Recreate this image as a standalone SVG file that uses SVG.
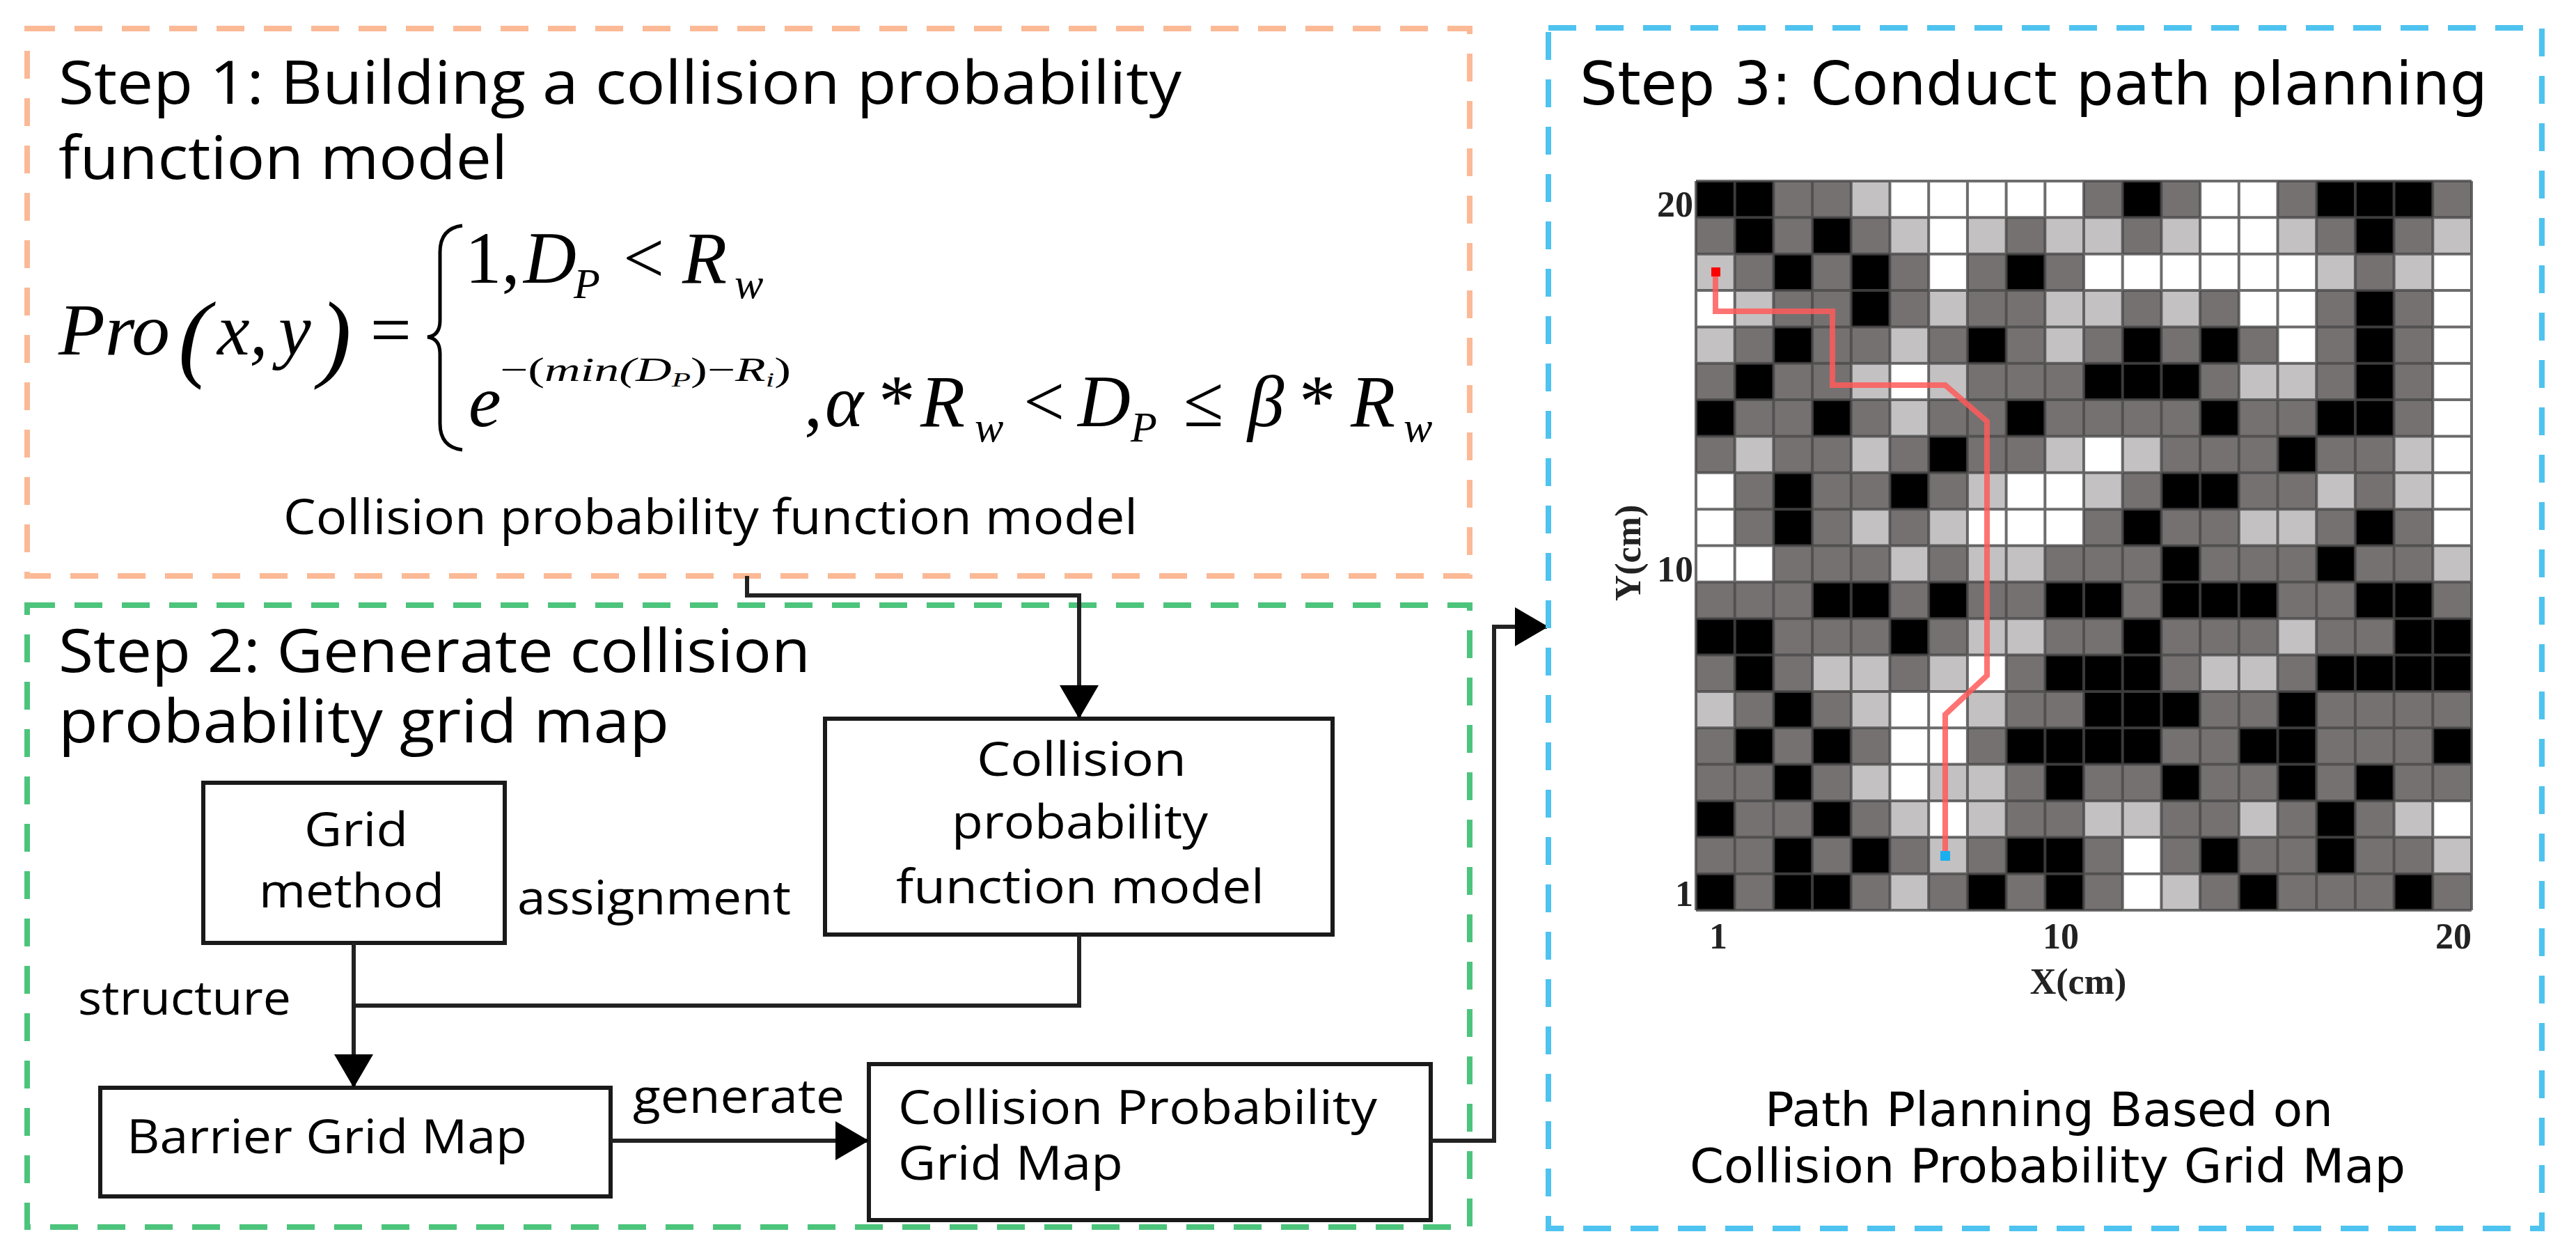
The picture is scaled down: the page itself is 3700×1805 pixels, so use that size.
<svg xmlns="http://www.w3.org/2000/svg" width="3700" height="1805" viewBox="0 0 3700 1805">
<style>
.t{font-family:"Open Sans","Noto Sans",sans-serif;fill:#000}
.v{font-family:"DejaVu Sans",sans-serif;fill:#000}
.m{font-family:"Liberation Serif",serif;font-style:italic;fill:#000}
.ax{font-family:"Liberation Serif",serif;font-weight:bold;fill:#222}
.box{fill:#fff;stroke:#1a1a1a;stroke-width:6}
.ln{fill:none;stroke:#222;stroke-width:6}
.B{fill:#000}.L{fill:#c3c1c1}.W{fill:#fff}
</style>
<defs>
<marker id="ah" markerUnits="userSpaceOnUse" markerWidth="50" markerHeight="56" refX="46" refY="28" orient="auto">
<path d="M0,0 L48,28 L0,56 Z" fill="#000"/>
</marker>
</defs>
<rect width="3700" height="1805" fill="#fff"/>

<g id="step1">
<rect x="39" y="41" width="2072" height="786" fill="none" stroke="#fbb996" stroke-width="8" stroke-dasharray="40,28"/>
<text class="t" x="84" y="149" font-size="86" textLength="1613" lengthAdjust="spacingAndGlyphs">Step 1: Building a collision probability</text>
<text class="t" x="84" y="257" font-size="86" textLength="645" lengthAdjust="spacingAndGlyphs">function model</text>
<text class="m" x="84" y="509" font-size="105" textLength="160" lengthAdjust="spacingAndGlyphs">Pro</text>
<text class="m" x="256" y="530" font-size="140" font-style="normal">(</text>
<text class="m" x="312" y="509" font-size="105">x,</text>
<text class="m" x="400" y="509" font-size="105">y</text>
<text class="m" x="458" y="530" font-size="140" font-style="normal">)</text>
<text class="m" x="525" y="509" font-size="105" font-style="normal">=</text>
<path d="M664 324 Q632 328 632 362 L632 460 Q632 482 614 484 Q632 486 632 508 L632 608 Q632 642 664 646" fill="none" stroke="#000" stroke-width="5"/>
<text class="m" y="406" font-size="105"><tspan x="668" font-style="normal">1,</tspan><tspan x="752">D</tspan><tspan x="824" y="428" font-size="62">P</tspan><tspan x="895" y="406" font-style="normal">&lt;</tspan><tspan x="980">R</tspan><tspan x="1055" y="428" font-size="62">w</tspan></text>
<text class="m" x="673" y="612" font-size="105">e</text>
<text class="m" x="718" y="547" font-size="48" textLength="418" lengthAdjust="spacingAndGlyphs"><tspan font-style="normal">−(</tspan>min(D<tspan font-size="30" dy="8">P</tspan><tspan dy="-8" font-style="normal">)−</tspan>R<tspan font-size="30" dy="8">i</tspan><tspan dy="-8" font-style="normal">)</tspan></text>
<text class="m" y="612" font-size="105"><tspan x="1155" font-style="normal">,</tspan><tspan x="1185">α</tspan><tspan x="1262" font-style="normal">*</tspan><tspan x="1322">R</tspan><tspan x="1400" y="634" font-size="62">w</tspan><tspan x="1470" y="612" font-style="normal">&lt;</tspan><tspan x="1548">D</tspan><tspan x="1624" y="634" font-size="62">P</tspan><tspan x="1700" y="612" font-style="normal">≤</tspan><tspan x="1792">β</tspan><tspan x="1866" font-style="normal">*</tspan><tspan x="1940">R</tspan><tspan x="2016" y="634" font-size="62">w</tspan></text>
<text class="t" x="407" y="767" font-size="70" textLength="1227" lengthAdjust="spacingAndGlyphs">Collision probability function model</text>
</g>

<g id="step2">
<rect x="39" y="869" width="2072" height="893" fill="none" stroke="#4cc47c" stroke-width="8" stroke-dasharray="40,28"/>
<text class="t" x="84" y="965" font-size="86" textLength="1080" lengthAdjust="spacingAndGlyphs">Step 2: Generate collision</text>
<text class="t" x="84" y="1066" font-size="86" textLength="877" lengthAdjust="spacingAndGlyphs">probability grid map</text>
</g>

<g id="cpfm">
<rect class="box" x="1185" y="1032" width="729" height="310"/>
<text class="t" x="1403" y="1114" font-size="68" textLength="301" lengthAdjust="spacingAndGlyphs">Collision</text>
<text class="t" x="1367" y="1204" font-size="68" textLength="368" lengthAdjust="spacingAndGlyphs">probability</text>
<text class="t" x="1287" y="1297" font-size="68" textLength="529" lengthAdjust="spacingAndGlyphs">function model</text>
</g>
<g id="gridmethod">
<rect class="box" x="292" y="1124" width="433" height="230"/>
<text class="t" x="437" y="1215" font-size="68" textLength="149" lengthAdjust="spacingAndGlyphs">Grid</text>
<text class="t" x="372" y="1303" font-size="68" textLength="266" lengthAdjust="spacingAndGlyphs">method</text>
</g>
<g id="barrier">
<rect class="box" x="144" y="1562" width="733" height="156"/>
<text class="t" x="182" y="1656" font-size="68" textLength="575" lengthAdjust="spacingAndGlyphs">Barrier Grid Map</text>
</g>
<g id="cpgm">
<rect class="box" x="1248" y="1528" width="807" height="224"/>
<text class="t" x="1290" y="1614" font-size="68" textLength="688" lengthAdjust="spacingAndGlyphs">Collision Probability</text>
<text class="t" x="1290" y="1694" font-size="68" textLength="323" lengthAdjust="spacingAndGlyphs">Grid Map</text>
</g>

<g id="connectors">
<path class="ln" d="M1073 827 V855 H1550 V1030" marker-end="url(#ah)"/>
<path class="ln" d="M508 1354 V1560" marker-end="url(#ah)"/>
<path class="ln" d="M1550 1342 V1444 H508"/>
<path class="ln" d="M877 1638 H1246" marker-end="url(#ah)"/>
<path class="ln" d="M2055 1638 H2146 V900 H2222" stroke-width="5" marker-end="url(#ah)"/>
<text class="t" x="743" y="1313" font-size="68" textLength="393" lengthAdjust="spacingAndGlyphs">assignment</text>
<text class="t" x="112" y="1457" font-size="68" textLength="306" lengthAdjust="spacingAndGlyphs">structure</text>
<text class="t" x="909" y="1598" font-size="68" textLength="304" lengthAdjust="spacingAndGlyphs">generate</text>
</g>

<g id="step3">
<rect x="2224" y="40" width="1427" height="1724" fill="none" stroke="#4ec3f0" stroke-width="8" stroke-dasharray="40,28"/>
<text class="v" x="2269" y="150" font-size="86" textLength="1304" lengthAdjust="spacingAndGlyphs">Step 3: Conduct path planning</text>
<g transform="translate(2436,260) scale(55.7,52.35)">
<rect width="20" height="20" fill="#757171"/>
<rect class="B" x="0" y="0" width="1" height="1"/><rect class="B" x="1" y="0" width="1" height="1"/><rect class="L" x="4" y="0" width="1" height="1"/><rect class="W" x="5" y="0" width="5" height="1"/><rect class="B" x="11" y="0" width="1" height="1"/><rect class="W" x="13" y="0" width="2" height="1"/><rect class="B" x="16" y="0" width="3" height="1"/>
<rect class="B" x="1" y="1" width="1" height="1"/><rect class="B" x="3" y="1" width="1" height="1"/><rect class="L" x="5" y="1" width="1" height="1"/><rect class="W" x="6" y="1" width="1" height="1"/><rect class="L" x="7" y="1" width="1" height="1"/><rect class="L" x="9" y="1" width="2" height="1"/><rect class="L" x="12" y="1" width="1" height="1"/><rect class="W" x="13" y="1" width="2" height="1"/><rect class="L" x="15" y="1" width="1" height="1"/><rect class="B" x="17" y="1" width="1" height="1"/><rect class="L" x="19" y="1" width="1" height="1"/>
<rect class="L" x="0" y="2" width="1" height="1"/><rect class="B" x="2" y="2" width="1" height="1"/><rect class="B" x="4" y="2" width="1" height="1"/><rect class="W" x="6" y="2" width="1" height="1"/><rect class="B" x="8" y="2" width="1" height="1"/><rect class="W" x="10" y="2" width="6" height="1"/><rect class="L" x="16" y="2" width="1" height="1"/><rect class="L" x="18" y="2" width="1" height="1"/><rect class="W" x="19" y="2" width="1" height="1"/>
<rect class="W" x="0" y="3" width="1" height="1"/><rect class="L" x="1" y="3" width="1" height="1"/><rect class="B" x="4" y="3" width="1" height="1"/><rect class="L" x="6" y="3" width="1" height="1"/><rect class="L" x="9" y="3" width="2" height="1"/><rect class="L" x="12" y="3" width="1" height="1"/><rect class="W" x="14" y="3" width="2" height="1"/><rect class="B" x="17" y="3" width="1" height="1"/><rect class="W" x="19" y="3" width="1" height="1"/>
<rect class="L" x="0" y="4" width="1" height="1"/><rect class="B" x="2" y="4" width="1" height="1"/><rect class="L" x="5" y="4" width="1" height="1"/><rect class="B" x="7" y="4" width="1" height="1"/><rect class="L" x="9" y="4" width="1" height="1"/><rect class="B" x="11" y="4" width="1" height="1"/><rect class="B" x="13" y="4" width="1" height="1"/><rect class="W" x="15" y="4" width="1" height="1"/><rect class="B" x="17" y="4" width="1" height="1"/><rect class="W" x="19" y="4" width="1" height="1"/>
<rect class="B" x="1" y="5" width="1" height="1"/><rect class="L" x="4" y="5" width="1" height="1"/><rect class="W" x="5" y="5" width="1" height="1"/><rect class="L" x="6" y="5" width="1" height="1"/><rect class="B" x="10" y="5" width="3" height="1"/><rect class="L" x="14" y="5" width="2" height="1"/><rect class="B" x="17" y="5" width="1" height="1"/><rect class="W" x="19" y="5" width="1" height="1"/>
<rect class="B" x="0" y="6" width="1" height="1"/><rect class="B" x="3" y="6" width="1" height="1"/><rect class="L" x="5" y="6" width="1" height="1"/><rect class="B" x="8" y="6" width="1" height="1"/><rect class="B" x="13" y="6" width="1" height="1"/><rect class="B" x="16" y="6" width="2" height="1"/><rect class="W" x="19" y="6" width="1" height="1"/>
<rect class="L" x="1" y="7" width="1" height="1"/><rect class="L" x="4" y="7" width="1" height="1"/><rect class="B" x="6" y="7" width="1" height="1"/><rect class="L" x="9" y="7" width="1" height="1"/><rect class="W" x="10" y="7" width="1" height="1"/><rect class="L" x="11" y="7" width="1" height="1"/><rect class="B" x="15" y="7" width="1" height="1"/><rect class="L" x="18" y="7" width="1" height="1"/><rect class="W" x="19" y="7" width="1" height="1"/>
<rect class="W" x="0" y="8" width="1" height="1"/><rect class="B" x="2" y="8" width="1" height="1"/><rect class="B" x="5" y="8" width="1" height="1"/><rect class="L" x="7" y="8" width="1" height="1"/><rect class="W" x="8" y="8" width="2" height="1"/><rect class="L" x="10" y="8" width="1" height="1"/><rect class="B" x="12" y="8" width="2" height="1"/><rect class="L" x="16" y="8" width="1" height="1"/><rect class="L" x="18" y="8" width="1" height="1"/><rect class="W" x="19" y="8" width="1" height="1"/>
<rect class="W" x="0" y="9" width="1" height="1"/><rect class="B" x="2" y="9" width="1" height="1"/><rect class="L" x="4" y="9" width="1" height="1"/><rect class="L" x="6" y="9" width="1" height="1"/><rect class="W" x="7" y="9" width="3" height="1"/><rect class="B" x="11" y="9" width="1" height="1"/><rect class="L" x="14" y="9" width="2" height="1"/><rect class="B" x="17" y="9" width="1" height="1"/><rect class="W" x="19" y="9" width="1" height="1"/>
<rect class="W" x="0" y="10" width="2" height="1"/><rect class="L" x="5" y="10" width="1" height="1"/><rect class="L" x="7" y="10" width="2" height="1"/><rect class="B" x="12" y="10" width="1" height="1"/><rect class="B" x="16" y="10" width="1" height="1"/><rect class="L" x="19" y="10" width="1" height="1"/>
<rect class="B" x="3" y="11" width="2" height="1"/><rect class="B" x="6" y="11" width="1" height="1"/><rect class="B" x="9" y="11" width="2" height="1"/><rect class="B" x="12" y="11" width="3" height="1"/><rect class="B" x="17" y="11" width="2" height="1"/>
<rect class="B" x="0" y="12" width="2" height="1"/><rect class="B" x="5" y="12" width="1" height="1"/><rect class="L" x="7" y="12" width="2" height="1"/><rect class="B" x="11" y="12" width="1" height="1"/><rect class="L" x="15" y="12" width="1" height="1"/><rect class="B" x="18" y="12" width="2" height="1"/>
<rect class="B" x="1" y="13" width="1" height="1"/><rect class="L" x="3" y="13" width="2" height="1"/><rect class="L" x="6" y="13" width="1" height="1"/><rect class="W" x="7" y="13" width="1" height="1"/><rect class="B" x="9" y="13" width="3" height="1"/><rect class="L" x="13" y="13" width="2" height="1"/><rect class="B" x="16" y="13" width="4" height="1"/>
<rect class="L" x="0" y="14" width="1" height="1"/><rect class="B" x="2" y="14" width="1" height="1"/><rect class="L" x="4" y="14" width="1" height="1"/><rect class="W" x="5" y="14" width="2" height="1"/><rect class="L" x="7" y="14" width="1" height="1"/><rect class="B" x="10" y="14" width="3" height="1"/><rect class="B" x="15" y="14" width="1" height="1"/>
<rect class="B" x="1" y="15" width="1" height="1"/><rect class="B" x="3" y="15" width="1" height="1"/><rect class="W" x="5" y="15" width="2" height="1"/><rect class="B" x="8" y="15" width="4" height="1"/><rect class="B" x="14" y="15" width="2" height="1"/><rect class="B" x="19" y="15" width="1" height="1"/>
<rect class="B" x="2" y="16" width="1" height="1"/><rect class="L" x="4" y="16" width="1" height="1"/><rect class="W" x="5" y="16" width="1" height="1"/><rect class="L" x="6" y="16" width="2" height="1"/><rect class="B" x="9" y="16" width="1" height="1"/><rect class="B" x="12" y="16" width="1" height="1"/><rect class="B" x="15" y="16" width="1" height="1"/><rect class="B" x="17" y="16" width="1" height="1"/>
<rect class="B" x="0" y="17" width="1" height="1"/><rect class="B" x="3" y="17" width="1" height="1"/><rect class="L" x="5" y="17" width="1" height="1"/><rect class="W" x="6" y="17" width="1" height="1"/><rect class="L" x="7" y="17" width="1" height="1"/><rect class="L" x="10" y="17" width="2" height="1"/><rect class="L" x="14" y="17" width="1" height="1"/><rect class="B" x="16" y="17" width="1" height="1"/><rect class="L" x="18" y="17" width="1" height="1"/><rect class="W" x="19" y="17" width="1" height="1"/>
<rect class="B" x="2" y="18" width="1" height="1"/><rect class="B" x="4" y="18" width="1" height="1"/><rect class="L" x="6" y="18" width="1" height="1"/><rect class="B" x="8" y="18" width="2" height="1"/><rect class="W" x="11" y="18" width="1" height="1"/><rect class="B" x="13" y="18" width="1" height="1"/><rect class="B" x="16" y="18" width="1" height="1"/><rect class="L" x="19" y="18" width="1" height="1"/>
<rect class="B" x="0" y="19" width="1" height="1"/><rect class="B" x="2" y="19" width="2" height="1"/><rect class="L" x="5" y="19" width="1" height="1"/><rect class="B" x="7" y="19" width="1" height="1"/><rect class="B" x="9" y="19" width="1" height="1"/><rect class="W" x="11" y="19" width="1" height="1"/><rect class="L" x="12" y="19" width="1" height="1"/><rect class="B" x="14" y="19" width="1" height="1"/><rect class="B" x="18" y="19" width="1" height="1"/>
<path d="M0 0H20M0 1H20M0 2H20M0 3H20M0 4H20M0 5H20M0 6H20M0 7H20M0 8H20M0 9H20M0 10H20M0 11H20M0 12H20M0 13H20M0 14H20M0 15H20M0 16H20M0 17H20M0 18H20M0 19H20M0 20H20M0 0V20M1 0V20M2 0V20M3 0V20M4 0V20M5 0V20M6 0V20M7 0V20M8 0V20M9 0V20M10 0V20M11 0V20M12 0V20M13 0V20M14 0V20M15 0V20M16 0V20M17 0V20M18 0V20M19 0V20M20 0V20" fill="none" stroke="#4a4848" stroke-width="4" stroke-opacity="0.8" vector-effect="non-scaling-stroke"/>
</g>
<path d="M2464 391 V447 H2632 V553 H2794 L2854 605 V970 L2794 1026 V1225" fill="none" stroke="#ff5a5a" stroke-width="8" stroke-opacity="0.85"/>
<rect x="2458" y="384" width="13" height="13" fill="#ff0000"/>
<rect x="2787" y="1222" width="14" height="14" fill="#1ab0ef"/>
<text class="ax" x="2432" y="311" font-size="52" text-anchor="end">20</text>
<text class="ax" x="2432" y="835" font-size="52" text-anchor="end">10</text>
<text class="ax" x="2432" y="1301" font-size="52" text-anchor="end">1</text>
<text class="ax" x="2468" y="1362" font-size="52" text-anchor="middle">1</text>
<text class="ax" x="2960" y="1362" font-size="52" text-anchor="middle">10</text>
<text class="ax" x="3524" y="1362" font-size="52" text-anchor="middle">20</text>
<text class="ax" x="2985" y="1427" font-size="52" text-anchor="middle">X(cm)</text>
<text class="ax" x="0" y="0" font-size="52" text-anchor="middle" transform="translate(2356,794) rotate(-90)">Y(cm)</text>
<text class="v" x="2535" y="1617" font-size="68" textLength="816" lengthAdjust="spacingAndGlyphs">Path Planning Based on</text>
<text class="v" x="2427" y="1698" font-size="68" textLength="1028" lengthAdjust="spacingAndGlyphs">Collision Probability Grid Map</text>
</g>
</svg>
